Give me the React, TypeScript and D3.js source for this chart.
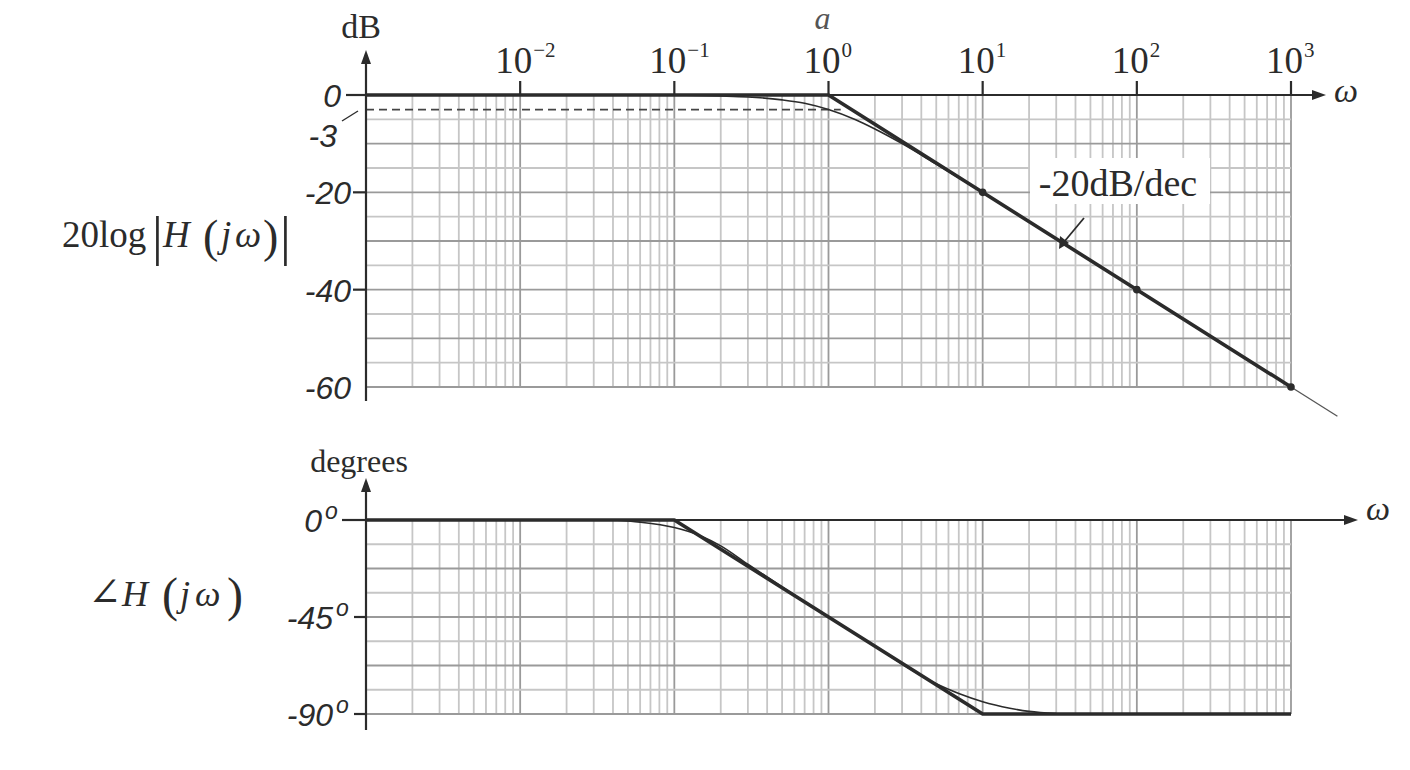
import React from 'react';
import * as d3 from 'd3';

// decade labels along the frequency axis (10^-3 sits at the origin, unlabeled)
const decadeExps = [-2, -1, 0, 1, 2, 3];
const decadeSups = ['−2', '−1', '0', '1', '2', '3'];

// magnitude axis
const magTicks = [0, -20, -40];
const magLabels = ['0', '-20', '-40', '-60'];
const magLabelVals = [0, -20, -40, -60];

// phase axis
const phaseTicks = [0, -45, -90];
const phaseLabels = ['0', '-45', '-90'];

// magnitude: straight-line asymptotes
const magAsymW = [0.001, 1, 1000];
const magAsymDb = [0, 0, -60];
const magTailW = [1000, 2000];
const magTailDb = [-60, -66];
const magExactW = [0.1, 0.2, 0.3, 0.5, 0.7, 1, 1.5, 2, 3, 5, 7, 10];
const magExactDb = [0, -0.2, -0.4, -1, -1.7, -3, -5.1, -7, -10, -14.2, -17, -20];
// dots on the asymptote
const markW = [10, 100, 1000];
const markDb = [-20, -40, -60];
// -3 dB dashed guide
const dashW = [0.001, 1.2];
const dashDb = [-3, -3];

// phase: asymptotes
const phaseAsymW = [0.001, 0.1, 10, 1000];
const phaseAsymDeg = [0, 0, -90, -90];
// phase: actual curve (hugs the asymptote in the drawing)
const phaseExactW = [0.04, 0.06, 0.1, 0.15, 0.2, 0.3, 0.5, 1, 2, 3, 5, 7, 10, 15, 20, 30];
const phaseExactDeg = [0, -1, -3.5, -7.5, -12, -20.5, -31, -45, -58.5, -66.8, -76, -80.5, -84.3, -87.3, -88.8, -89.8];

const W = 1410;
const H = 770;

const zip = (a: number[], b: number[]) => a.map((v, i) => [v, b[i]] as [number, number]);

const serif = '"Liberation Serif", "DejaVu Serif", serif';
const sans = '"Liberation Sans", Arial, sans-serif';
const ink = '#2b2b2b';
const gridMinor = '#c6c6c6';
const gridMajor = '#9a9a9a';

export default function App() {
  const x = d3.scaleLog().domain([1e-3, 1e3]).range([366, 1291]);
  const yMag = d3.scaleLinear().domain([0, -60]).range([95, 387]);
  const yPh = d3.scaleLinear().domain([0, -90]).range([520, 714]);

  const magLine = d3.line<[number, number]>().x(d => x(d[0])).y(d => yMag(d[1]));
  const magCurve = d3.line<[number, number]>().x(d => x(d[0])).y(d => yMag(d[1])).curve(d3.curveMonotoneX);
  const phLine = d3.line<[number, number]>().x(d => x(d[0])).y(d => yPh(d[1]));
  const phCurve = d3.line<[number, number]>().x(d => x(d[0])).y(d => yPh(d[1])).curve(d3.curveMonotoneX);

  const vTicks = x.ticks();
  const isDecade = (v: number) => Math.abs(Math.log10(v) - Math.round(Math.log10(v))) < 1e-9;
  const magGrid = yMag.ticks(12);
  const phGrid = d3.range(0, 9).map(i => -i * 11.25);

  const x0 = x(1e-3);
  const x1 = x(1e3);

  const arrowR = (tx: number, ty: number) => `M${tx},${ty} L${tx - 14},${ty - 5} L${tx - 14},${ty + 5} Z`;
  const arrowU = (tx: number, ty: number) => `M${tx},${ty} L${tx - 5},${ty + 14} L${tx + 5},${ty + 14} Z`;

  return (
    <svg width={W} height={H} style={{ position: 'absolute', left: 0, top: 0, background: '#fff' }}>
      {/* ---------- magnitude grid ---------- */}
      <g>
        {vTicks.map((v, i) => (
          <line key={'mv' + i} x1={x(v)} x2={x(v)} y1={yMag(0)} y2={yMag(-60)}
            stroke={isDecade(v) ? gridMajor : gridMinor} strokeWidth={1.8} />
        ))}
        {magGrid.map((v, i) => (
          <line key={'mh' + i} x1={x0} x2={x1} y1={yMag(v)} y2={yMag(v)}
            stroke={v % 10 === 0 ? gridMajor : gridMinor} strokeWidth={1.8} />
        ))}
      </g>

      {/* -3 dB guide */}
      <path d={magLine(zip(dashW, dashDb)) || ''} fill="none" stroke="#444" strokeWidth={1.6} strokeDasharray="8,5" />

      {/* magnitude curves */}
      <path d={magCurve(zip(magExactW, magExactDb)) || ''} fill="none" stroke={ink} strokeWidth={1.6} />
      <path d={magLine(zip(magAsymW, magAsymDb)) || ''} fill="none" stroke={ink} strokeWidth={3.6} strokeLinejoin="round" />
      <path d={magLine(zip(magTailW, magTailDb)) || ''} fill="none" stroke="#555" strokeWidth={1.3} />
      {zip(markW, markDb).map((d, i) => (
        <circle key={'mk' + i} cx={x(d[0])} cy={yMag(d[1])} r={3.8} fill={ink} />
      ))}

      {/* magnitude axes */}
      <line x1={x0} x2={1312} y1={yMag(0)} y2={yMag(0)} stroke={ink} strokeWidth={2.2} />
      <path d={arrowR(1326, yMag(0))} fill={ink} />
      <line x1={x0} x2={x0} y1={yMag(-60) + 14} y2={62} stroke={ink} strokeWidth={2.2} />
      <path d={arrowU(x0, 50)} fill={ink} />
      {decadeExps.map((e, i) => (
        <g key={'dx' + i}>
          <line x1={x(Math.pow(10, e))} x2={x(Math.pow(10, e))} y1={yMag(0)} y2={yMag(0) - 14} stroke={ink} strokeWidth={2.2} />
          <text x={x(Math.pow(10, e)) - 25} y={73} fontFamily={serif} fontSize={37} fill={ink}>
            10<tspan dx={1} dy={-16} fontSize={21}>{decadeSups[i]}</tspan>
          </text>
        </g>
      ))}
      {magTicks.map((v, i) => (
        <line key={'mt' + i} x1={x0 - (v === 0 ? 20 : 13)} x2={x0} y1={yMag(v)} y2={yMag(v)} stroke={ink} strokeWidth={2.2} />
      ))}
      {magLabelVals.map((v, i) => (
        <text key={'ml' + i} x={v === 0 ? 341 : 351} y={yMag(v) + 12} textAnchor="end" fontFamily={sans}
          fontStyle="italic" fontSize={32} fill={ink}>{magLabels[i]}</text>
      ))}
      <text x={337} y={147} textAnchor="end" fontFamily={sans} fontStyle="italic" fontSize={32} fill={ink}>-3</text>
      <line x1={342} y1={121} x2={358} y2={111} stroke={ink} strokeWidth={1.4} />

      <text x={x0 - 5} y={38} textAnchor="middle" fontFamily={serif} fontSize={34} fill={ink}>dB</text>
      <text x={1334} y={102} fontFamily={serif} fontStyle="italic" fontSize={34} fill={ink}>ω</text>
      <text x={x(1) - 6} y={29} textAnchor="middle" fontFamily={serif} fontStyle="italic" fontSize={32} fill="#555">a</text>

      {/* -20dB/dec annotation */}
      <rect x={1030} y={158} width={180} height={46} fill="#fff" />
      <text x={1118} y={196} textAnchor="middle" fontFamily={serif} fontSize={38} fill={ink}>-20dB/dec</text>
      <line x1={1084} y1={218} x2={1064} y2={242} stroke={ink} strokeWidth={1.8} />
      <path d="M1059,249 L1060,236 L1069,243 Z" fill={ink} />

      {/* left magnitude label */}
      <g fontFamily={serif} fill={ink}>
        <text x={62} y={247} fontSize={37}>20log</text>
        <text x={152} y={254} fontSize={54} fontWeight={300}>|</text>
        <text x={163} y={247} fontSize={37} fontStyle="italic">H</text>
        <text x={203} y={252} fontSize={46}>(</text>
        <text x={221} y={247} fontSize={37} fontStyle="italic">j</text>
        <text x={235} y={247} fontSize={37} fontStyle="italic">ω</text>
        <text x={263} y={252} fontSize={46}>)</text>
        <text x={280} y={254} fontSize={54} fontWeight={300}>|</text>
      </g>

      {/* ---------- phase grid ---------- */}
      <g>
        {vTicks.map((v, i) => (
          <line key={'pv' + i} x1={x(v)} x2={x(v)} y1={yPh(0)} y2={yPh(-90)}
            stroke={isDecade(v) ? gridMajor : gridMinor} strokeWidth={1.8} />
        ))}
        {phGrid.map((v, i) => (
          <line key={'ph' + i} x1={x0} x2={x1} y1={yPh(v)} y2={yPh(v)}
            stroke={i % 2 === 0 ? gridMajor : gridMinor} strokeWidth={1.8} />
        ))}
      </g>

      {/* phase curves */}
      <path d={phCurve(zip(phaseExactW, phaseExactDeg)) || ''} fill="none" stroke={ink} strokeWidth={1.6} />
      <path d={phLine(zip(phaseAsymW, phaseAsymDeg)) || ''} fill="none" stroke={ink} strokeWidth={3.6} strokeLinejoin="round" />

      {/* phase axes */}
      <line x1={x0} x2={1344} y1={yPh(0)} y2={yPh(0)} stroke={ink} strokeWidth={2.2} />
      <path d={arrowR(1358, yPh(0))} fill={ink} />
      <line x1={x0} x2={x0} y1={yPh(-90) + 16} y2={490} stroke={ink} strokeWidth={2.2} />
      <path d={arrowU(x0, 478)} fill={ink} />
      {phaseTicks.map((v, i) => (
        <g key={'pt' + i}>
          <line x1={x0 - (v === 0 ? 24 : 12)} x2={x0} y1={yPh(v)} y2={yPh(v)} stroke={ink} strokeWidth={2.2} />
          <text x={v === 0 ? 322 : 333} y={yPh(v) + 12} textAnchor="end" fontFamily={sans} fontStyle="italic" fontSize={32} fill={ink}>
            {phaseLabels[i]}
          </text>
          <text x={v === 0 ? 325 : 336} y={yPh(v) - 1} fontFamily={sans} fontStyle="italic" fontSize={23} fill={ink}>o</text>
        </g>
      ))}
      <text x={x0 - 7} y={472} textAnchor="middle" fontFamily={serif} fontSize={32} fill={ink}>degrees</text>
      <text x={1366} y={520} fontFamily={serif} fontStyle="italic" fontSize={34} fill={ink}>ω</text>

      {/* left phase label */}
      <g fontFamily={serif} fill={ink}>
        <text x={88} y={606} fontSize={40}>∠</text>
        <text x={122} y={606} fontSize={36} fontStyle="italic">H</text>
        <text x={162} y={611} fontSize={48}>(</text>
        <text x={180} y={606} fontSize={36} fontStyle="italic">j</text>
        <text x={195} y={606} fontSize={36} fontStyle="italic">ω</text>
        <text x={227} y={611} fontSize={48}>)</text>
      </g>
    </svg>
  );
}
